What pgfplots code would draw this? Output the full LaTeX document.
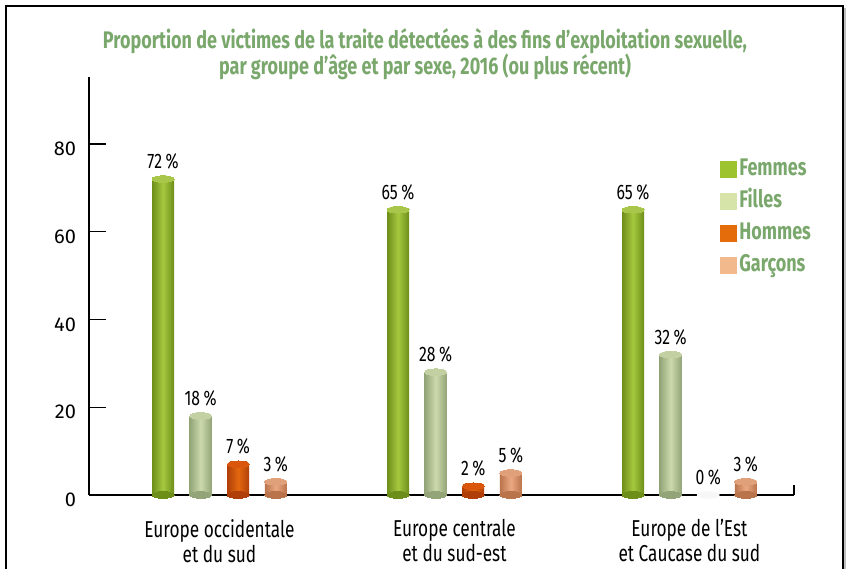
\documentclass[border=0pt]{standalone}
\usepackage{pgfplots}
\pgfplotsset{compat=1.18}
\usepackage{fontspec}
\setmainfont{Fira Sans}
\newfontfamily\cond[FakeStretch=0.75]{Fira Sans}
\definecolor{ttl}{HTML}{7AA86C}
\definecolor{fD}{HTML}{6E8E1A}\definecolor{fM}{HTML}{A5C83E}\definecolor{fT}{HTML}{A8C64A}
\definecolor{gD}{HTML}{93A578}\definecolor{gM}{HTML}{CCD9AC}\definecolor{gT}{HTML}{C3D0A2}
\definecolor{hD}{HTML}{B03E08}\definecolor{hM}{HTML}{E4680F}\definecolor{hT}{HTML}{D9560C}
\definecolor{bD}{HTML}{BA744C}\definecolor{bM}{HTML}{EAA882}\definecolor{bT}{HTML}{E0A07A}
\definecolor{lF}{HTML}{9DC42F}\definecolor{lG}{HTML}{D6E4A9}\definecolor{lH}{HTML}{E46C0A}\definecolor{lB}{HTML}{F2B98C}
% x position, value, dark, middle, top colour
\newcommand{\cyl}[5]{%
\addplot[only marks, color=#3, mark=*, mark size=5.5pt, mark options={yscale=0.3, fill=#3, draw=#3, line width=0pt}, forget plot] coordinates {(#1,0)};
\addplot[ybar, bar width=11pt, bar shift=0pt, draw=none, left color=#3, right color=#3, middle color=#4, forget plot] coordinates {(#1,#2)};
\addplot[only marks, color=#5, mark=*, mark size=5.5pt, mark options={yscale=0.3, fill=#5, draw=#5, line width=0pt}, forget plot,
  nodes near coords={\cond\fontsize{10.5}{11}\selectfont\pgfmathprintnumber{\pgfplotspointmeta}\,\%},
  every node near coord/.append style={anchor=south, yshift=1.5pt, text=black}] coordinates {(#1,#2)};
}
\begin{document}
\begin{tikzpicture}
\path[use as bounding box] (0,0) rectangle (423pt,284pt);
\draw[line width=1.2pt] (3pt,-2pt) -- (3pt,281pt) -- (421.5pt,281pt) -- (421.5pt,-2pt);
\draw[gray!50, line width=0.8pt] (422.6pt,-2pt) -- (422.6pt,280pt);
\node[anchor=north, inner sep=0pt, align=center, text=ttl, font=\cond\bfseries\fontsize{12}{13}\selectfont] at (212.5pt,270pt)
 {Proportion de victimes de la traite détectées à des fins d’exploitation sexuelle,\\par groupe d’âge et par sexe, 2016 (ou plus récent)};
\begin{axis}[
  at={(44.5pt,36.5pt)}, anchor=south west, scale only axis,
  width=352.5pt, height=209pt,
  xmin=-0.555, xmax=2.445, ymin=0, ymax=95.27,
  clip=false,
  axis x line*=bottom, axis y line*=left,
  axis line style={-, line width=0.8pt},
  tick align=inside, major tick length=8.5pt,
  ytick={0,20,40,60,80},
  ytick style={black, line width=0.6pt},
  yticklabel style={font=\fontsize{10}{11}\selectfont, xshift=-3pt, yshift=-2.5pt},
  /pgf/number format/assume math mode=true,
  xtick={0,1,2},
  xticklabels={{Europe occidentale\\et du sud},{Europe centrale\\et du sud-est},{Europe de l’Est\\et Caucase du sud}},
  xtick style={draw=none},
  xticklabel style={align=center, font=\cond\fontsize{11.5}{12.5}\selectfont, yshift=-8.5pt},
  legend style={draw=none, fill=none, at={(0.895,0.809)}, anchor=north west,
    font=\cond\bfseries\fontsize{12}{12}\selectfont, text=ttl, inner sep=0pt, row sep=4pt,
    nodes={text height=8pt, text depth=2pt, inner sep=1pt}},
  legend cell align=left,
  legend image code/.code={\fill[#1, draw=none] (0pt,-4.25pt) rectangle (8.5pt,4.25pt);},
]
% Femmes
\cyl{-0.240}{72}{fD}{fM}{fT}
\cyl{0.760}{65}{fD}{fM}{fT}
\cyl{1.760}{65}{fD}{fM}{fT}
% Filles
\cyl{-0.080}{18}{gD}{gM}{gT}
\cyl{0.920}{28}{gD}{gM}{gT}
\cyl{1.920}{32}{gD}{gM}{gT}
% Hommes
\cyl{0.080}{7}{hD}{hM}{hT}
\cyl{1.080}{2}{hD}{hM}{hT}
\addplot[only marks, color=gray!6, mark=*, mark size=5.5pt, mark options={yscale=0.3, fill=gray!6, draw=gray!6}, forget plot,
  nodes near coords={\cond\fontsize{10.5}{11}\selectfont\pgfmathprintnumber{\pgfplotspointmeta}\,\%},
  every node near coord/.append style={anchor=south, yshift=1.5pt, text=black}] coordinates {(2.080,0)};
% Garcons
\cyl{0.240}{3}{bD}{bM}{bT}
\cyl{1.240}{5}{bD}{bM}{bT}
\cyl{2.240}{3}{bD}{bM}{bT}
\draw[line width=0.8pt] (rel axis cs:1,0) -- ++(0pt,5pt);
\addlegendimage{fill=lF}\addlegendentry{Femmes}
\addlegendimage{fill=lG}\addlegendentry{Filles}
\addlegendimage{fill=lH}\addlegendentry{Hommes}
\addlegendimage{fill=lB}\addlegendentry{Garçons}
\end{axis}
\end{tikzpicture}
\end{document}
